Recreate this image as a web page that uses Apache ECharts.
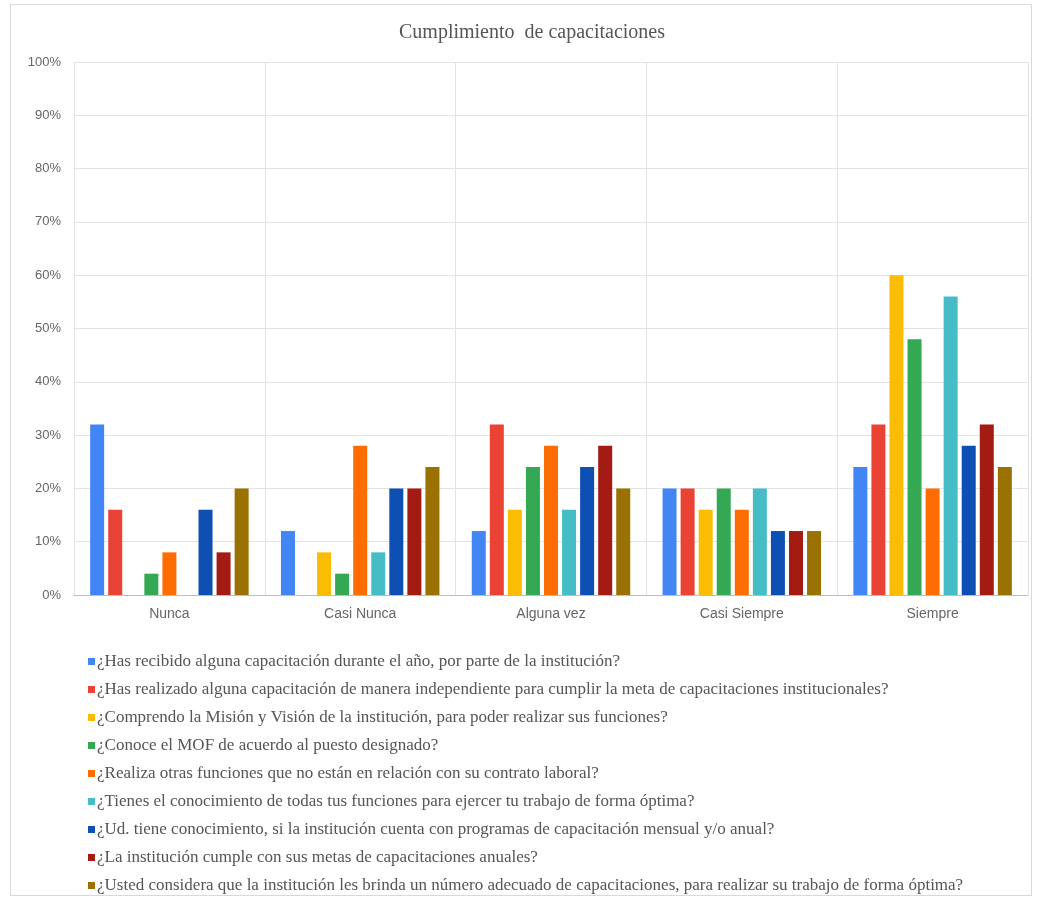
<!DOCTYPE html>
<html>
<head>
<meta charset="utf-8">
<script src="https://cdn.jsdelivr.net/npm/echarts@6/dist/echarts.min.js"></script>
<style>
    html, body { margin: 0; padding: 0; background: #fff; }
    #frame { position: absolute; left: 10px; top: 4px; width: 1022px; height: 892px; border: 1px solid #d9d9d9; box-sizing: border-box; }
    #chart { position: absolute; left: 0; top: 0; width: 1038px; height: 899px; }
</style>
</head>
<body>
<div id="frame"></div>
<div id="chart"></div>
<script>
// categorías del eje X
var categories = ['Nunca', 'Casi Nunca', 'Alguna vez', 'Casi Siempre', 'Siempre'];
// preguntas (leyenda)
var questions = [
    '¿Has recibido alguna capacitación durante el año, por parte de la institución?',
    '¿Has realizado alguna capacitación de manera independiente para cumplir la meta de capacitaciones institucionales?',
    '¿Comprendo la Misión y Visión de la institución, para poder realizar sus funciones?',
    '¿Conoce el MOF de acuerdo al puesto designado?',
    '¿Realiza otras funciones que no están en relación con su contrato laboral?',
    '¿Tienes el conocimiento de todas tus funciones para ejercer tu trabajo de forma óptima?',
    '¿Ud. tiene conocimiento, si la institución cuenta con programas de capacitación mensual y/o anual?',
    '¿La institución cumple con sus metas de capacitaciones anuales?',
    '¿Usted considera que la institución les brinda un número adecuado de capacitaciones, para realizar su trabajo de forma óptima?'
];
// porcentajes por pregunta (Nunca, Casi Nunca, Alguna vez, Casi Siempre, Siempre)
var q1 = [32, 12, 12, 20, 24];
var q2 = [16, 0, 32, 20, 32];
var q3 = [0, 8, 16, 16, 60];
var q4 = [4, 4, 24, 20, 48];
var q5 = [8, 28, 28, 16, 20];
var q6 = [0, 8, 16, 20, 56];
var q7 = [16, 20, 24, 12, 28];
var q8 = [8, 20, 28, 12, 32];
var q9 = [20, 24, 20, 12, 24];
var values = [q1, q2, q3, q4, q5, q6, q7, q8, q9];

var colors = ['#4285f4', '#ea4335', '#fbbc04', '#34a853', '#ff6d01', '#46bdc6', '#0d4fb3', '#a31b12', '#9a7204'];

var myChart = echarts.init(document.getElementById('chart'));

var series = questions.map(function (q, i) {
    return {
        name: q,
        type: 'bar',
        barWidth: 14,
        barGap: '29%',
        data: values[i]
    };
});

var option = {
    color: colors,
    animation: false,
    title: {
        text: 'Cumplimiento  de capacitaciones',
        left: 527,
        textAlign: 'center',
        top: 18,
        textStyle: {
            fontFamily: 'Liberation Serif',
            fontWeight: 'normal',
            fontSize: 20,
            color: '#555'
        }
    },
    legend: {
        orient: 'vertical',
        left: 83,
        top: 648,
        itemWidth: 7,
        itemHeight: 7,
        itemGap: 11,
        icon: 'rect',
        data: questions,
        textStyle: {
            fontFamily: 'Liberation Serif',
            fontSize: 17,
            color: '#555',
            padding: [0, 0, 0, -3]
        }
    },
    grid: {
        left: 74,
        right: 10,
        top: 62,
        bottom: 304,
        containLabel: false
    },
    xAxis: {
        type: 'category',
        data: categories,
        axisLine: { lineStyle: { color: '#bdbdbd' } },
        axisTick: { show: false },
        splitLine: { show: true, lineStyle: { color: '#e3e3e3' } },
        axisLabel: {
            color: '#666',
            fontFamily: 'Liberation Sans',
            fontSize: 14,
            margin: 12
        }
    },
    yAxis: {
        type: 'value',
        min: 0,
        max: 100,
        interval: 10,
        axisLine: { show: false },
        axisTick: { show: false },
        splitLine: { lineStyle: { color: '#e3e3e3' } },
        axisLabel: {
            color: '#666',
            fontFamily: 'Liberation Sans',
            fontSize: 13,
            margin: 13,
            formatter: '{value}%'
        }
    },
    series: series
};

myChart.setOption(option);
</script>
</body>
</html>
